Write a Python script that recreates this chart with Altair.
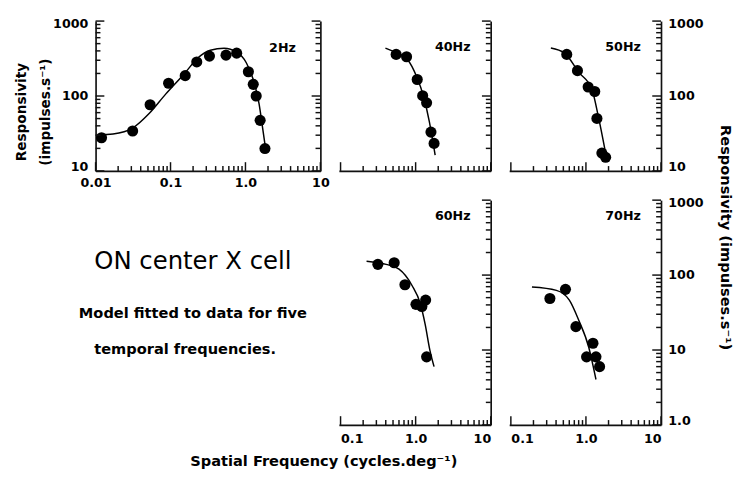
import altair as alt
import pandas as pd

FONT = "DejaVu Sans"
INK = "#111111"

# ---------------- data ----------------
# 2 Hz
hz2_x = [0.0120, 0.0312, 0.0534, 0.0942, 0.157, 0.224, 0.331, 0.550, 0.763, 1.094, 1.27, 1.39, 1.57, 1.82]
hz2_y = [27.7, 34.1, 76.4, 148, 187, 285, 341, 351, 373, 211, 143, 100, 47.3, 19.9]
fit2_x = [0.0106, 0.0171, 0.0312, 0.0518, 0.0861, 0.157, 0.231, 0.340, 0.518, 0.763, 1.03, 1.27, 1.52, 1.71, 1.87]
fit2_y = [30.3, 31.2, 37.3, 58.3, 106, 205, 321, 408, 433, 384, 276, 166, 78.7, 35.1, 18.8]
# 40 Hz
hz40_x = [0.550, 0.757, 1.05, 1.24, 1.40, 1.60, 1.76]
hz40_y = [359, 334, 166, 101, 81.1, 33.0, 23.3]
fit40_x = [0.396, 0.533, 0.787, 1.03, 1.27, 1.52, 1.82]
fit40_y = [436, 384, 303, 182, 100, 45.9, 16.3]
# 50 Hz
hz50_x = [0.555, 0.771, 1.07, 1.31, 1.40, 1.63, 1.83]
hz50_y = [359, 218, 132, 115, 50.2, 17.3, 15.2]
fit50_x = [0.341, 0.518, 0.811, 1.20, 1.48, 1.89]
fit50_y = [436, 373, 205, 123, 50.2, 14.5]
# 60 Hz
hz60_x = [0.314, 0.518, 0.720, 1.01, 1.21, 1.36, 1.40]
hz60_y = [139, 146, 74.2, 40.7, 38.0, 46.4, 8.11]
fit60_x = [0.222, 0.404, 0.601, 0.895, 1.15, 1.34, 1.55, 1.76]
fit60_y = [153, 139, 120, 72.6, 42.0, 22.0, 9.9, 6.0]
# 70 Hz
hz70_x = [0.331, 0.534, 0.735, 1.02, 1.24, 1.36, 1.52]
hz70_y = [48.7, 64.5, 20.5, 8.11, 12.3, 8.11, 6.0]
fit70_x = [0.191, 0.404, 0.601, 0.811, 1.09, 1.36]
fit70_y = [69.2, 62.5, 46.4, 24.3, 10.9, 4.04]

# axis ticks / labels
x_major_wide = [0.01, 0.1, 1, 10]
x_major = [0.1, 1, 10]
y_major_top = [10, 100, 1000]
y_major_bot = [1, 10, 100, 1000]
mult = [2, 3, 4, 5, 6, 7, 8, 9]
x_minor_wide = [m * d for d in [0.01, 0.1, 1] for m in mult]
x_minor = [m * d for d in [0.1, 1] for m in mult]
y_minor_top = [m * d for d in [10, 100] for m in mult]
y_minor_bot = [m * d for d in [1, 10, 100] for m in mult]

y_title_left = ["Responsivity", "(impulses.s\u207b\u00b9)"]
y_title_right = "Responsivity  (impulses.s\u207b\u00b9)"
x_title = "Spatial Frequency  (cycles.deg\u207b\u00b9)"
note_lines = ["ON center X cell", "Model  fitted  to data for  five", "temporal  frequencies."]

# ---------------- layout constants ----------------
W_WIDE, W, H_TOP, H_BOT = 231, 156, 154, 231
MAJ_LEN, MIN_LEN = 9, 5
LABEL_EXPR = "datum.value == 1 ? '1.0' : toString(datum.value)"


def y_axis(orient, ymaj, labels, extra=None):
    ya = dict(orient=orient, values=ymaj, ticks=False, tickSize=0, grid=False, domain=True,
              domainColor=INK, domainWidth=1.7, labels=labels, labelExpr=LABEL_EXPR,
              labelFont=FONT, labelFontWeight="bold", labelFontSize=13, labelColor="black",
              labelPadding=7, labelFlush=True, labelFlushOffset=3, title=None)
    if extra:
        ya.update(extra)
    return alt.Axis(**ya)


def y_ticks(Y, ymaj, ymin, sx, w):
    out = []
    for vals, ln in [(ymaj, MAJ_LEN), (ymin, MIN_LEN)]:
        inner = sx - ln if sx > 0 else sx + ln
        out.append(alt.Chart(pd.DataFrame({"y": vals})).mark_rule(
            color=INK, strokeWidth=1.5, orient="horizontal").encode(
            y=Y, x=alt.value(sx), x2=alt.value(inner)))
    return out


def panel(px, py, fx, fy, name, w, h, xdom, ydom, xmaj, xmin, ymaj, ymin,
          name_pos, xlabels, ylabels, y_orient="right", xaxis_extra=None, yaxis_extra=None,
          right_frame=False):
    xs = alt.Scale(type="log", domain=xdom, nice=False)
    xa = dict(orient="bottom", values=xmaj, ticks=False, tickSize=0, grid=False, domain=True,
              domainColor=INK, domainWidth=1.7, labels=xlabels, labelExpr=LABEL_EXPR,
              labelFont=FONT, labelFontWeight="bold", labelFontSize=13, labelColor="black",
              labelPadding=6, labelFlush=False, title=None)
    if xaxis_extra:
        xa.update(xaxis_extra)
    X = alt.X("x:Q", scale=xs, axis=alt.Axis(**xa))
    Y = alt.Y("y:Q", scale=alt.Scale(type="log", domain=ydom, nice=False),
              axis=y_axis(y_orient, ymaj, ylabels, yaxis_extra))

    layers = []
    layers.append(alt.Chart(pd.DataFrame({"x": fx, "y": fy})).mark_line(
        color="black", strokeWidth=1.5, interpolate="monotone").encode(x=X, y=Y))
    layers.append(alt.Chart(pd.DataFrame({"x": px, "y": py})).mark_circle(
        size=130, color="black", opacity=1).encode(x=X, y=Y))
    for vals, ln in [(xmaj, MAJ_LEN), (xmin, MIN_LEN)]:
        layers.append(alt.Chart(pd.DataFrame({"x": vals})).mark_rule(
            color=INK, strokeWidth=1.5, orient="vertical").encode(
            x=X, y=alt.value(h), y2=alt.value(h - ln)))
    layers += y_ticks(Y, ymaj, ymin, w if y_orient == "right" else 0, w)
    layers.append(alt.Chart(pd.DataFrame({"t": [name]})).mark_text(
        font=FONT, fontWeight="bold", fontSize=13, color="black").encode(
        text="t:N", x=alt.value(name_pos[0]), y=alt.value(name_pos[1])))
    main = alt.layer(*layers)
    if not right_frame:
        return main.properties(width=w, height=h)
    # second, unlabeled right-hand axis (same log domain) that closes the panel frame
    Y_r = alt.Y("y:Q", scale=alt.Scale(type="log", domain=ydom, nice=False),
                axis=y_axis("right", ymaj, False))
    right = alt.layer(*y_ticks(Y_r, ymaj, ymin, w, w))
    return alt.layer(main, right).resolve_scale(y="independent").resolve_axis(
        y="independent").properties(width=w, height=h)


p2 = panel(hz2_x, hz2_y, fit2_x, fit2_y, "2Hz", W_WIDE, H_TOP, [0.01, 10], [10, 1000],
           x_major_wide, x_minor_wide, y_major_top, y_minor_top, (192, 28), True, True,
           y_orient="left", right_frame=True,
           yaxis_extra=dict(labelPadding=8, title=y_title_left, titleFont=FONT,
                            titleFontWeight="bold", titleFontSize=14, titleColor="black",
                            titleLineHeight=25, titleAngle=270, titleX=-83, titleY=93,
                            titleAlign="center", titleBaseline="top"))
p40 = panel(hz40_x, hz40_y, fit40_x, fit40_y, "40Hz", W, H_TOP, [0.095, 10], [10, 1000],
            x_major, x_minor, y_major_top, y_minor_top, (117, 27), False, False)
p50 = panel(hz50_x, hz50_y, fit50_x, fit50_y, "50Hz", W, H_TOP, [0.095, 10], [10, 1000],
            x_major, x_minor, y_major_top, y_minor_top, (117, 27), False, True)
p60 = panel(hz60_x, hz60_y, fit60_x, fit60_y, "60Hz", W, H_BOT, [0.095, 10], [1, 1000],
            x_major, x_minor, y_major_bot, y_minor_bot, (117, 16), True, False,
            xaxis_extra=dict(labelFlush=4, labelPadding=8, title=x_title, titleFont=FONT,
                             titleFontWeight="bold", titleFontSize=15, titleColor="black",
                             titleX=-16, titleY=37, titleAlign="center", titleBaseline="middle"))
p70 = panel(hz70_x, hz70_y, fit70_x, fit70_y, "70Hz", W, H_BOT, [0.095, 10], [1, 1000],
            x_major, x_minor, y_major_bot, y_minor_bot, (117, 16), True, True,
            xaxis_extra=dict(labelFlush=4, labelPadding=8),
            yaxis_extra=dict(title=y_title_right, titleFont=FONT, titleFontWeight="bold",
                             titleFontSize=15, titleColor="black", titleAngle=90,
                             titleX=66, titleY=38, titleAlign="center", titleBaseline="middle"))

note_specs = [(note_lines[0], 100, 63, 25, "normal"),
              (note_lines[1], 100, 116, 15, "bold"),
              (note_lines[2], 92, 153, 15, "bold")]
note_layers = []
for txt, tx, ty, fs, fw in note_specs:
    note_layers.append(alt.Chart(pd.DataFrame({"t": [txt]})).mark_text(
        font=FONT, fontSize=fs, fontWeight=fw, color="black").encode(
        text="t:N", x=alt.value(tx), y=alt.value(ty)))
note = alt.layer(*note_layers).properties(width=W_WIDE, height=H_BOT)

chart = alt.concat(p2, p40, p50, note, p60, p70, columns=3,
                   spacing={"row": 30, "column": 19}, bounds="flush").properties(
    padding={"left": 7, "top": 4, "right": 2, "bottom": 0},
    background="white",
).configure(font=FONT).configure_view(stroke=None)

chart.save("out.html", embed_options={"renderer": "svg", "actions": False})
